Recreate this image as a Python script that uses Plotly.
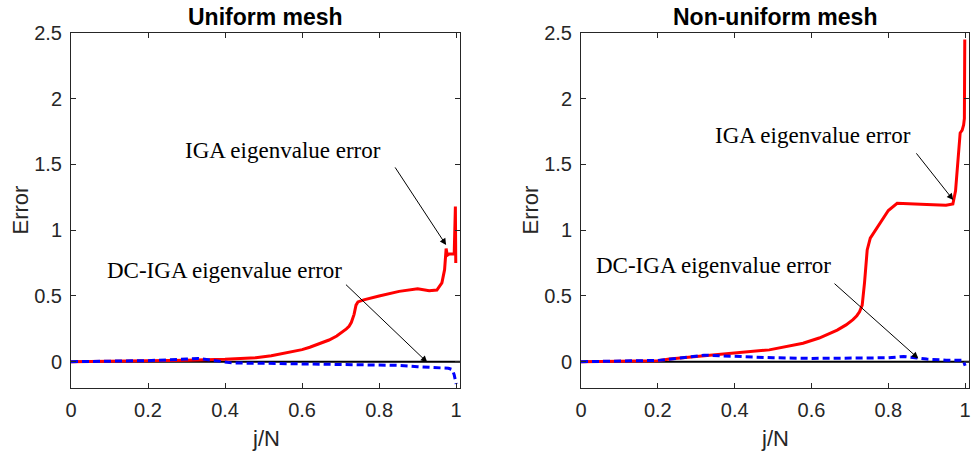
import plotly.graph_objects as go

# ---------------- data ----------------
uni_iga_x = [0, 0.1, 0.2, 0.3, 0.4, 0.48, 0.52, 0.567, 0.6, 0.62, 0.653, 0.67, 0.69, 0.70, 0.715, 0.722,
             0.728, 0.735, 0.74, 0.745, 0.76, 0.8, 0.852, 0.9, 0.93, 0.95, 0.963, 0.97, 0.974, 0.977,
             0.982, 0.995, 0.998, 0.999]
uni_iga_y = [0, 0.003, 0.008, 0.012, 0.018, 0.03, 0.045, 0.07, 0.092, 0.11, 0.145, 0.165, 0.195, 0.215,
             0.25, 0.27, 0.3, 0.36, 0.43, 0.455, 0.47, 0.5, 0.535, 0.555, 0.54, 0.545, 0.6, 0.7, 0.86,
             0.81, 0.82, 0.82, 1.18, 0.75]

uni_dc_x = [0, 0.1, 0.2, 0.3, 0.33, 0.37, 0.4, 0.42, 0.5, 0.6, 0.7, 0.8, 0.85, 0.9, 0.95, 0.98, 0.99, 0.995, 1.0]
uni_dc_y = [0, 0.003, 0.008, 0.02, 0.025, 0.01, 0.0, -0.01, -0.012, -0.015, -0.018, -0.022, -0.028,
            -0.038, -0.045, -0.05, -0.06, -0.1, -0.17]

non_iga_x = [0, 0.1, 0.2, 0.23, 0.318, 0.405, 0.49, 0.578, 0.62, 0.667, 0.69, 0.708, 0.718, 0.725,
             0.732, 0.738, 0.745, 0.753, 0.779, 0.8, 0.823, 0.85, 0.9, 0.95, 0.968, 0.975, 0.979,
             0.983, 0.987, 0.992, 0.996, 0.998, 0.999]
non_iga_y = [0, 0.002, 0.008, 0.02, 0.045, 0.065, 0.09, 0.14, 0.18, 0.24, 0.28, 0.32, 0.35, 0.38,
             0.43, 0.6, 0.85, 0.94, 1.06, 1.15, 1.205, 1.2, 1.195, 1.19, 1.2, 1.3, 1.45, 1.6, 1.74,
             1.76, 1.8, 1.85, 2.45]

non_dc_x = [0, 0.1, 0.2, 0.25, 0.32, 0.36, 0.4, 0.45, 0.5, 0.6, 0.7, 0.75, 0.8, 0.84, 0.87, 0.9,
            0.95, 0.98, 0.995, 1.0]
non_dc_y = [0, 0.003, 0.01, 0.025, 0.05, 0.045, 0.04, 0.035, 0.03, 0.025, 0.025, 0.025, 0.03, 0.04,
            0.03, 0.02, 0.012, 0.012, 0.01, -0.03]

zero_x = [0, 1.01]
zero_y = [0, 0]

x_ticks = [0, 0.2, 0.4, 0.6, 0.8, 1]
x_tick_text = ["0", "0.2", "0.4", "0.6", "0.8", "1"]
y_ticks = [0, 0.5, 1, 1.5, 2, 2.5]
y_tick_text = ["0", "0.5", "1", "1.5", "2", "2.5"]

titles = ["Uniform mesh", "Non-uniform mesh"]

# ---------------- figure ----------------
fig = go.Figure()

RED = "#ff0000"
BLUE = "#0000ff"

for xa, ya, (ix, iy, dx, dy) in [("x", "y", (uni_iga_x, uni_iga_y, uni_dc_x, uni_dc_y)),
                                  ("x2", "y2", (non_iga_x, non_iga_y, non_dc_x, non_dc_y))]:
    fig.add_trace(go.Scatter(x=zero_x, y=zero_y, mode="lines", line=dict(color="black", width=2),
                             xaxis=xa, yaxis=ya, showlegend=False, hoverinfo="skip"))
    fig.add_trace(go.Scatter(x=ix, y=iy, mode="lines", line=dict(color=RED, width=3),
                             xaxis=xa, yaxis=ya, showlegend=False))
    fig.add_trace(go.Scatter(x=dx, y=dy, mode="lines", line=dict(color=BLUE, width=3, dash="7px,4px"),
                             xaxis=xa, yaxis=ya, showlegend=False))

axis_common = dict(showgrid=False, zeroline=False, showline=True, linecolor="#262626", linewidth=1,
                   mirror="ticks", ticks="inside", ticklen=5, tickcolor="#262626", automargin=False,
                   tickfont=dict(family="Liberation Sans, Arial, sans-serif", size=20, color="#262626"))

xdoms = [[71 / 972, 460 / 972], [581 / 972, 969 / 972]]
ydom = [1 - 388 / 457, 1 - 33 / 457]

layout = dict(
    width=972, height=457, margin=dict(l=0, r=0, t=0, b=0, autoexpand=False),
    plot_bgcolor="white", paper_bgcolor="white", showlegend=False,
)
for i, sfx in enumerate(["", "2"]):
    layout["xaxis" + sfx] = dict(axis_common, domain=xdoms[i], range=[0, 1.01],
                                 tickvals=x_ticks, ticktext=x_tick_text, anchor="y" + sfx,
                                 ticklabelstandoff=4)
    layout["yaxis" + sfx] = dict(axis_common, domain=ydom, range=[-0.2, 2.5],
                                 tickvals=y_ticks, ticktext=y_tick_text, anchor="x" + sfx,
                                 ticklabelstandoff=4)
fig.update_layout(**layout)

anns = []
sans = "Liberation Sans, Arial, sans-serif"
serif = "Liberation Serif, Times New Roman, serif"
for i in range(2):
    cx = (xdoms[i][0] + xdoms[i][1]) / 2
    anns.append(dict(text="<b>" + titles[i] + "</b>", x=cx, y=1 - 17 / 457, xref="paper", yref="paper",
                     showarrow=False, font=dict(family=sans, size=23, color="black"),
                     xanchor="center", yanchor="middle"))
    anns.append(dict(text="j/N", x=cx, y=1 - 438 / 457, xref="paper", yref="paper",
                     showarrow=False, font=dict(family=sans, size=22, color="#262626"),
                     xanchor="center", yanchor="middle"))
    anns.append(dict(text="Error", x=(20 + 510 * i) / 972, y=(ydom[0] + ydom[1]) / 2,
                     xref="paper", yref="paper", textangle=-90,
                     showarrow=False, font=dict(family=sans, size=22, color="#262626"),
                     xanchor="center", yanchor="middle"))

# labels and arrows (data coordinates)
labels = [
    ("x", "y", "IGA eigenvalue error", 0.55, 1.61, 0.974, 0.887, 0.839, 1.489),
    ("x", "y", "DC-IGA eigenvalue error", 0.399, 0.696, 0.925, -0.005, 0.710, 0.597),
    ("x2", "y2", "IGA eigenvalue error", 0.604, 1.724, 0.969, 1.23, 0.870, 1.596),
    ("x2", "y2", "DC-IGA eigenvalue error", 0.344, 0.734, 0.878, 0.025, 0.656, 0.604),
]
for xr, yr, txt, tx, ty, hx, hy, sx, sy in labels:
    anns.append(dict(text=txt, x=tx, y=ty, xref=xr, yref=yr, showarrow=False,
                     font=dict(family=serif, size=23, color="black"), xanchor="center", yanchor="middle"))
    anns.append(dict(text="", x=hx, y=hy, xref=xr, yref=yr, ax=sx, ay=sy, axref=xr, ayref=yr,
                     showarrow=True, arrowhead=2, arrowsize=1.3, arrowwidth=1, arrowcolor="black",
                     standoff=0, startstandoff=0))
fig.update_layout(annotations=anns)

fig.write_html("out.html", config={"displayModeBar": False},
               post_script="document.body.style.margin='0';document.body.style.overflow='hidden';")
